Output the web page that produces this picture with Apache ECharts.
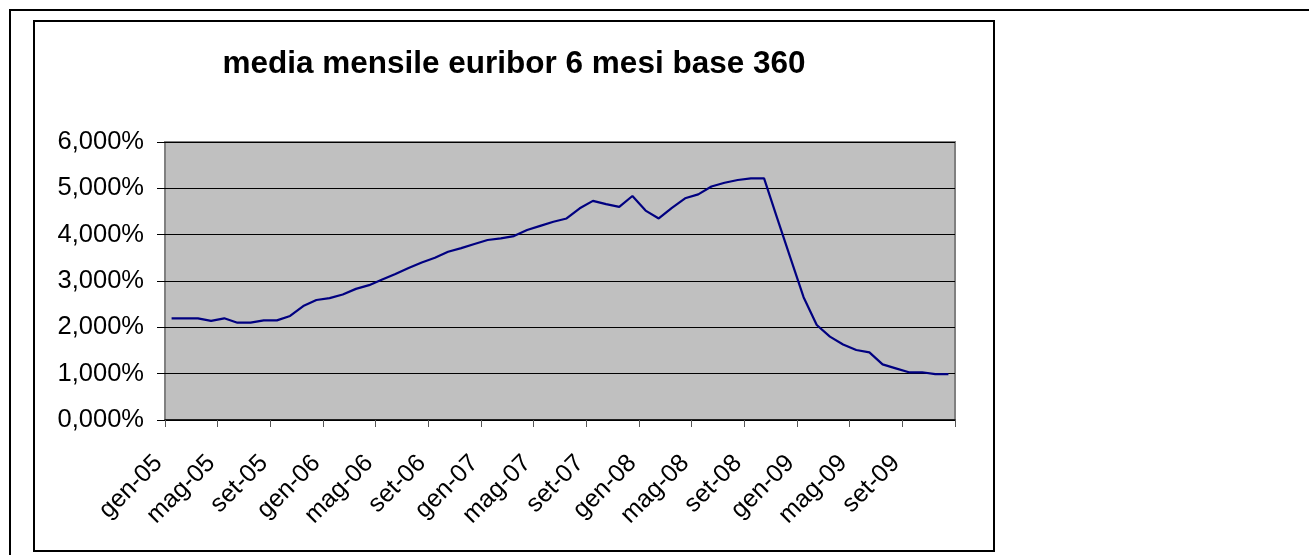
<!DOCTYPE html>
<html>
<head>
<meta charset="utf-8">
<script src="https://cdn.jsdelivr.net/npm/echarts@6/dist/echarts.min.js"></script>
<style>
html,body{margin:0;padding:0;background:#fff;}
#chart{width:1309px;height:555px;}
</style>
</head>
<body>
<div id="chart"></div>
<script>
// ---- data ----
var monthNames = ['gen','feb','mar','apr','mag','giu','lug','ago','set','ott','nov','dic'];
var years = ['05','06','07','08','09'];
var categories = [];
years.forEach(function(y){ monthNames.forEach(function(m){ categories.push(m + '-' + y); }); });

var euribor6m = [
  2.195, 2.195, 2.195, 2.14, 2.195, 2.10, 2.10, 2.15, 2.15, 2.245, 2.46, 2.59,
  2.63, 2.71, 2.83, 2.91, 3.03, 3.15, 3.28, 3.40, 3.50, 3.63, 3.71, 3.80,
  3.885, 3.92, 3.97, 4.10, 4.19, 4.28, 4.35, 4.57, 4.73, 4.66, 4.60, 4.835,
  4.52, 4.35, 4.58, 4.785, 4.87, 5.04, 5.12, 5.18, 5.215, 5.215, 4.35, 3.50,
  2.65, 2.05, 1.80, 1.63, 1.51, 1.46, 1.20, 1.115, 1.03, 1.03, 0.99, 0.99
];
var yMin = 0, yMax = 6, yStep = 1;
var titleText = 'media mensile euribor 6 mesi base 360';

var FONT = '"Liberation Sans", Arial, sans-serif';
var chart = echarts.init(document.getElementById('chart'));
chart.setOption({
  backgroundColor: '#ffffff',
  animation: false,
  graphic: [
    { type: 'line', shape: { x1: 9, y1: 10, x2: 1309, y2: 10 }, style: { stroke: '#000', lineWidth: 2 } },
    { type: 'line', shape: { x1: 10, y1: 9, x2: 10, y2: 555 }, style: { stroke: '#000', lineWidth: 2 } },
    { type: 'rect', shape: { x: 34, y: 21, width: 960, height: 530 }, style: { fill: 'none', stroke: '#000', lineWidth: 2 }, z: -1 }
  ],
  title: {
    text: titleText,
    left: 509, textAlign: 'center',
    top: 43,
    textStyle: { fontFamily: FONT, fontWeight: 'bold', fontSize: 31.5, color: '#000' }
  },
  grid: {
    left: 165, top: 142, right: 354, bottom: 135,
    show: true, backgroundColor: '#C0C0C0', borderColor: '#808080', borderWidth: 2
  },
  xAxis: {
    type: 'category',
    data: categories,
    boundaryGap: true,
    axisLine: { show: true, lineStyle: { color: '#000', width: 1.5 } },
    axisTick: { show: true, interval: 3, length: 7, lineStyle: { color: '#555', width: 1 } },
    axisLabel: {
      interval: 3, rotate: 45, margin: 44,
      verticalAlign: 'bottom', padding: [0, 6, 0, 0],
      fontFamily: FONT, fontSize: 25, color: '#000'
    },
    splitLine: { show: false }
  },
  yAxis: {
    type: 'value',
    min: yMin, max: yMax, interval: yStep,
    axisLine: { show: false },
    axisTick: { show: true, inside: false, length: 8, lineStyle: { color: '#000', width: 1 } },
    axisLabel: {
      margin: 21, fontFamily: FONT, fontSize: 25.5, color: '#000',
      formatter: function(v){ return v.toFixed(3).replace('.', ',') + '%'; }
    },
    splitLine: { show: true, lineStyle: { color: '#000', width: 1 } }
  },
  series: [{
    type: 'line',
    data: euribor6m,
    showSymbol: false,
    symbol: 'none',
    lineStyle: { color: '#000080', width: 2.2 },
    itemStyle: { color: '#000080' }
  }]
});
</script>
</body>
</html>
